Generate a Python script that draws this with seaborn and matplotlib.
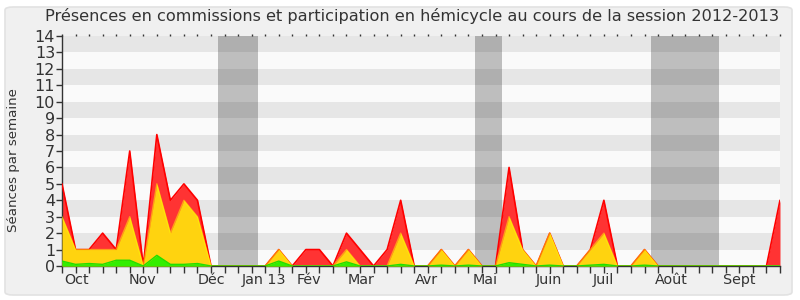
import numpy as np
import pandas as pd
import matplotlib
matplotlib.use("Agg")
import matplotlib.pyplot as plt
from matplotlib.patches import FancyBboxPatch
import seaborn as sns

# ---- data (weekly values, session 2012-2013) ----
weeks = list(range(54))
commission = [5, 1, 1, 2, 1, 7, 0, 8, 4, 5, 4, 0, 0, 0, 0, 0, 1, 0, 1, 1,
              0, 2, 1, 0, 1, 4, 0, 0, 1, 0, 1, 0, 0, 6, 1, 0, 2, 0, 0, 1,
              4, 0, 0, 1, 0, 0, 0, 0, 0, 0, 0, 0, 0, 4]
hemicycle = [3, 1, 1, 1, 1, 3, 0, 5, 2, 4, 3, 0, 0, 0, 0, 0, 1, 0, 0, 0,
             0, 1, 0, 0, 0, 2, 0, 0, 1, 0, 1, 0, 0, 3, 1, 0, 2, 0, 0, 1,
             2, 0, 0, 1, 0, 0, 0, 0, 0, 0, 0, 0, 0, 0]
interventions = [0.3, 0.1, 0.15, 0.1, 0.35, 0.35, 0, 0.65, 0.1, 0.1, 0.15, 0, 0, 0, 0, 0, 0.3, 0, 0, 0,
                 0, 0.25, 0, 0, 0, 0.1, 0, 0, 0.05, 0, 0.05, 0, 0, 0.2, 0.1, 0, 0.05, 0, 0, 0.05,
                 0.1, 0, 0, 0.05, 0, 0, 0, 0, 0, 0, 0, 0, 0, 0]
month_labels = ["Oct", "Nov", "Déc", "Jan 13", "Fév", "Mar", "Avr", "Mai", "Juin", "Juil", "Août", "Sept"]
month_pos = [1.1, 5.97, 11.0, 14.9, 18.2, 22.1, 26.9, 31.2, 35.95, 39.95, 44.95, 50.0]
vacations = [(11.5, 14.5), (30.5, 32.5), (43.5, 48.5)]

df = pd.DataFrame({"semaine": weeks, "commission": commission,
                   "hemicycle": hemicycle, "interventions": interventions})

sns.set_theme(style="white")
plt.rcParams['font.family'] = ['DejaVu Sans']

fig = plt.figure(figsize=(8, 3), dpi=100)
fig.patch.set_facecolor("white")
bg = FancyBboxPatch((5 / 800, 5 / 300), 787 / 800, 288 / 300,
                    boxstyle="round,pad=0,rounding_size=0.01",
                    transform=fig.transFigure, facecolor="#F0F0F0",
                    edgecolor="#E2E2E2", linewidth=1.2, zorder=-10)
fig.patches.append(bg)

ax = fig.add_axes([62 / 800, 34 / 300, 718 / 800, 230 / 300])
ax.set_facecolor("#FAFAFA")

# horizontal stripes
for k in range(14):
    if k % 2 == 1:
        ax.axhspan(k, k + 1, color="#E6E6E6", zorder=0, lw=0)
# vacations
for a, b in vacations:
    ax.axvspan(a, b, color="black", alpha=0.24, zorder=1, lw=0)

x = df["semaine"]
ax.fill_between(x, 0, df["commission"], color="#FF3333", lw=0, zorder=2)
sns.lineplot(data=df, x="semaine", y="commission", color="#FF0000", lw=1.2, ax=ax, zorder=3)
ax.fill_between(x, 0, df["hemicycle"], color="#FFD30F", lw=0, zorder=4)
sns.lineplot(data=df, x="semaine", y="hemicycle", color="#FFFF00", lw=1.0, alpha=0.5, ax=ax, zorder=5)
ax.fill_between(x, 0, df["interventions"], color="#33EE00", lw=0, zorder=6)
sns.lineplot(data=df, x="semaine", y="interventions", color="#22DD00", lw=1.0, ax=ax, zorder=7)

ax.set_xlim(0, 53)
ax.set_ylim(0, 14)
ax.set_yticks(range(15))
ax.set_yticklabels([str(i) for i in range(15)], fontsize=11.5, color="#333333")
ax.set_xticks(weeks)
ax.set_xticklabels([])
ax.tick_params(axis="x", which="major", direction="out", length=5, width=1,
               color="#333333", bottom=True, top=True)
ax.tick_params(axis="y", direction="out", length=4, width=1, color="#333333", left=True, pad=1)
for t in ax.xaxis.get_ticklines()[1::2]:
    t.set_markersize(1.5)
for xp, lab in zip(month_pos, month_labels):
    ax.text(xp, -0.45, lab, ha="center", va="top", fontsize=10.3, color="#333333",
            transform=ax.transData)

for s in ["top", "right"]:
    ax.spines[s].set_visible(False)
ax.spines["left"].set_color("#333333")
ax.spines["bottom"].set_color("#333333")
ax.spines["left"].set_linewidth(1)
ax.spines["bottom"].set_linewidth(1)

ax.set_xlabel("")
ax.set_ylabel("Séances par semaine", fontsize=9.6, color="#333333")
ax.yaxis.set_label_coords(-0.058, 0.46)
fig.text(412 / 800, 1 - 16 / 300, "Présences en commissions et participation en hémicycle au cours de la session 2012-2013",
         ha="center", va="center", fontsize=11.6, color="#333333")

fig.savefig("out.png", dpi=100, facecolor=fig.get_facecolor())
